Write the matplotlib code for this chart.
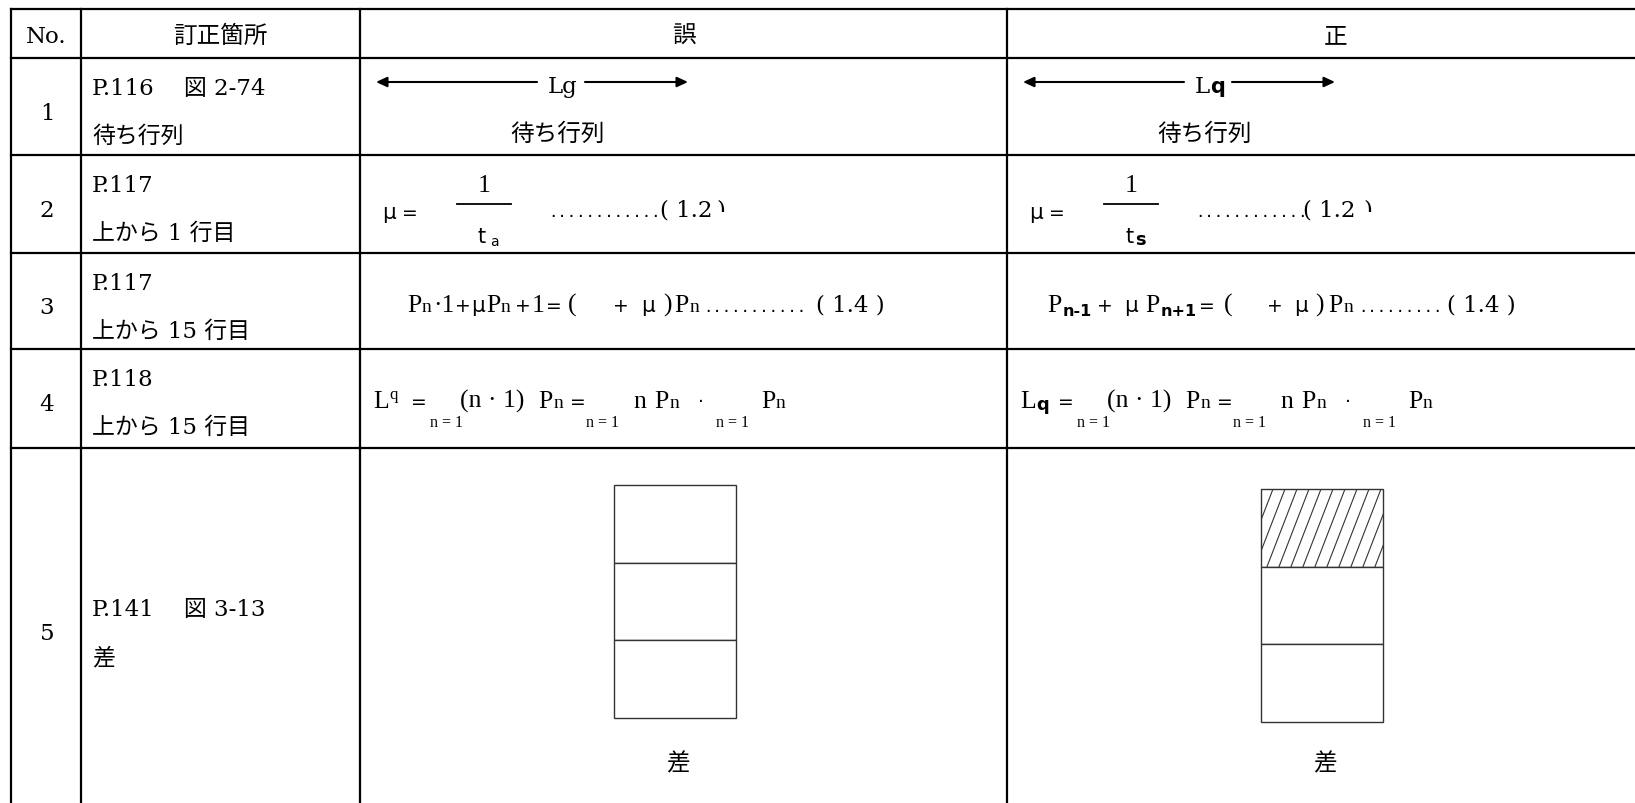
import matplotlib
matplotlib.use("Agg")
import matplotlib.pyplot as plt
from matplotlib.patches import Rectangle
from matplotlib.transforms import Bbox
import numpy as np

# ---------------- data (text content of the errata table) ----------------
HEADERS = ["No.", "訂正箇所", "誤", "正"]
ROW_NUMBERS = ["1", "2", "3", "4", "5"]
LOCATION_LINE1 = ["P.116\u3000 図 2-74", "P.117", "P.117", "P.118", "P.141\u3000 図 3-13"]
LOCATION_LINE2 = ["待ち行列", "上から 1 行目", "上から 15 行目", "上から 15 行目", "差"]

R1_WRONG = ["Lg"]
R1_RIGHT = ["L", "q"]
R1_CAPTION = "待ち行列"

R2_WRONG = ["μ", "=", "1", "t", "a", "............", "( 1.2", ")"]
R2_RIGHT = ["μ", "=", "1", "t", "s", "............", "( 1.2", ")"]

R3_WRONG = ["P", "n", "·1", "+", "μ", "P", "n", "+", "1", "=", "(", "+", "μ", ")", "P", "n",
            "...........", "( 1.4 )"]
R3_RIGHT = ["P", "n-1", "+", "μ", "P", "n+1", "=", "(", "+", "μ", ")", "P", "n",
            ".........", "( 1.4 )"]

R4_WRONG = ["L", "q", "=", "n = 1", "(n · 1)", "P", "n", "=", "n = 1", "n", "P", "n", "·",
            "n = 1", "P", "n"]
R4_RIGHT = ["L", "q", "=", "n = 1", "(n · 1)", "P", "n", "=", "n = 1", "n", "P", "n", "·",
            "n = 1", "P", "n"]

R5_CAPTION = "差"
R5_SEGMENTS = 3
R5_HATCH_WRONG = [False, False, False]
R5_HATCH_RIGHT = [True, False, False]

# ---------------- layout ----------------
W, H = 1635, 804
fig = plt.figure(figsize=(W / 100, H / 100), dpi=100)
ax = fig.add_axes([0, 0, 1, 1])
ax.set_xlim(0, W)
ax.set_ylim(H, 0)
ax.axis("off")

COLS = [11, 81, 360, 1007, 1660]
ROWS = [10, 59, 156, 254, 350, 449, 807]
LW = 1.6

SERIF = "DejaVu Serif"
TIMES = "Liberation Serif"
SANS = "DejaVu Sans"
CJK = "Noto Sans CJK JP"
STY = {
    "rm": dict(fontfamily=SERIF, fontsize=16.5),
    "frm": dict(fontfamily=TIMES, fontsize=18.5),
    "rs": dict(fontfamily=TIMES, fontsize=14),
    "sub": dict(fontfamily=TIMES, fontsize=11.5),
    "op": dict(fontfamily=SANS, fontsize=13.5),
    "mu": dict(fontfamily=SANS, fontsize=15.5),
    "bsub": dict(fontfamily=SANS, fontsize=11.5, fontweight="bold"),
    "bq": dict(fontfamily=SANS, fontsize=13, fontweight="bold"),
    "supq": dict(fontfamily=TIMES, fontsize=12),
    "qs": dict(fontfamily=SANS, fontsize=15, fontweight="bold"),
    "t": dict(fontfamily=SANS, fontsize=15),
    "asub": dict(fontfamily=SANS, fontsize=10),
    "ssub": dict(fontfamily=SANS, fontsize=13, fontweight="bold"),
    "dots": dict(fontfamily="DejaVu Sans Mono", fontsize=11.2),
    "mix": dict(fontfamily=[SERIF, CJK], fontsize=16.5),
    "cjk": dict(fontfamily=[CJK], fontsize=17),
}


def put(x, y, s, sty, ha="left", **kw):
    return ax.text(x, y, s, ha=ha, va="baseline", color="black", **STY[sty], **kw)


# grid lines
for x in COLS[:-1]:
    ax.plot([x, x], [ROWS[0], ROWS[-1]], color="black", lw=LW, solid_capstyle="projecting")
for y in ROWS[:-1]:
    ax.plot([COLS[0], COLS[-1]], [y, y], color="black", lw=LW, solid_capstyle="projecting")

# header
HEADER_X = [(COLS[0] + COLS[1]) / 2, (COLS[1] + COLS[2]) / 2, (COLS[2] + COLS[3]) / 2, 1336]
put(HEADER_X[0], 43, HEADERS[0], "rm", ha="center")
for i in range(1, 4):
    put(HEADER_X[i], 43, HEADERS[i], "cjk", ha="center")

# first two columns
for r in range(5):
    top = ROWS[r + 1]
    bot = ROWS[r + 2]
    num_base = (top + bot) / 2 + 12 if r < 4 else 640
    put((COLS[0] + COLS[1]) / 2 + 1, num_base, ROW_NUMBERS[r], "rm", ha="center")
    if r < 4:
        b1, b2 = top + 36, top + 84
    else:
        b1, b2 = 616, 664
    put(COLS[1] + 11, b1, LOCATION_LINE1[r], "mix")
    put(COLS[1] + 11, b2, LOCATION_LINE2[r], "mix")

WRONG_C = COLS[2]
RIGHT_C = COLS[3]

# ---- row 1 : arrows
for c, label in ((WRONG_C, R1_WRONG), (RIGHT_C, R1_RIGHT)):
    arrow = dict(arrowstyle="-|>,head_length=0.65,head_width=0.3", lw=1.5, color="black",
                 shrinkA=0, shrinkB=0, mutation_scale=10)
    ax.annotate("", xy=(c + 16, 83), xytext=(c + 177, 83), arrowprops=arrow)
    ax.annotate("", xy=(c + 328, 83), xytext=(c + 225, 83), arrowprops=arrow)
    put(c + 188, 93, label[0], "rm")
    if len(label) > 1:
        put(c + 203, 93, label[1], "qs")
    put(c + 198, 141, R1_CAPTION, "cjk", ha="center")

# ---- row 2 : mu = 1/t
R2_LAYOUT = {
    "wrong": [("mu", 22, 219, "left"), ("op", 42, 219, "left"), ("frm", 124, 192, "center"),
              ("t", 118, 243, "left"), ("asub", 130, 246, "left"), ("dots", 188, 217, "left"),
              ("rm", 300, 217, "left"), ("rm", 356, 217, "left")],
    "right": [("mu", 22, 219, "left"), ("op", 42, 219, "left"), ("frm", 124, 192, "center"),
              ("t", 119, 243, "left"), ("ssub", 128, 245, "left"), ("dots", 188, 217, "left"),
              ("rm", 296, 217, "left"), ("rm", 356, 217, "left")],
}
for c, texts, key in ((WRONG_C, R2_WRONG, "wrong"), (RIGHT_C, R2_RIGHT, "right")):
    ax.plot([c + 97, c + 151], [205, 205], color="black", lw=1.3)
    for k, (s, (sty, dx, by, ha)) in enumerate(zip(texts, R2_LAYOUT[key])):
        t = put(c + dx, by, s, sty, ha=ha)
        if k == len(texts) - 1:  # closing bracket is only half visible
            t.set_clip_on(True)
            t.set_clip_box(Bbox.from_extents(c + dx - 5, H - 213, c + dx + 30, H - 190))

# ---- row 3
R3_BASE = 312
R3_LAYOUT_WRONG = [("frm", 47, 0), ("rs", 62, 0), ("frm", 73, 0), ("op", 95, 0), ("mu", 111, 0),
                   ("frm", 126, 0), ("rs", 141, 0), ("op", 155, 0), ("frm", 172, 0),
                   ("op", 186, 0), ("frm", 208, 0), ("op", 253, 0), ("mu", 281, 0),
                   ("frm", 303, 0), ("frm", 314, 0), ("rs", 330, 0), ("dots", 343, 0),
                   ("rm", 456, 0)]
R3_LAYOUT_RIGHT = [("frm", 40, 0), ("bsub", 56, 4), ("op", 90, 0), ("mu", 117, 0),
                   ("frm", 138, 0), ("bsub", 154, 4), ("op", 192, 0), ("frm", 217, 0),
                   ("op", 260, 0), ("mu", 287, 0), ("frm", 308, 0), ("frm", 321, 0),
                   ("rs", 337, 0), ("dots", 351, 0), ("rm", 440, 0)]
for c, texts, lay in ((WRONG_C, R3_WRONG, R3_LAYOUT_WRONG), (RIGHT_C, R3_RIGHT, R3_LAYOUT_RIGHT)):
    for s, (sty, dx, dy) in zip(texts, lay):
        put(c + dx, R3_BASE + dy, s, sty)

# ---- row 4
R4_BASE = 408
R4_LAYOUT_COMMON = [("op", 51, 0), ("sub", 70, 19), ("frm", 100, 0), ("frm", 178, 0),
                    ("rs", 194, 0), ("op", 210, 0), ("sub", 226, 19), ("frm", 273, 0),
                    ("frm", 294, 0), ("rs", 310, 0), ("op", 338, 0), ("sub", 356, 19),
                    ("frm", 401, 0), ("rs", 416, 0)]
R4_LAYOUT_WRONG = [("frm", 13, 0), ("supq", 29, -9)] + R4_LAYOUT_COMMON
R4_LAYOUT_RIGHT = [("frm", 13, 0), ("bq", 29, 2)] + R4_LAYOUT_COMMON
for c, texts, lay in ((WRONG_C, R4_WRONG, R4_LAYOUT_WRONG), (RIGHT_C, R4_RIGHT, R4_LAYOUT_RIGHT)):
    for s, (sty, dx, dy) in zip(texts, lay):
        put(c + dx, R4_BASE + dy, s, sty)

# ---- row 5 : stacked boxes
for c, y_top, hatch in ((WRONG_C, 486, R5_HATCH_WRONG), (RIGHT_C, 490, R5_HATCH_RIGHT)):
    x0, x1 = c + 254, c + 376
    seg_h = 233 / R5_SEGMENTS
    for i in range(R5_SEGMENTS):
        ys = y_top + i * seg_h
        rect = Rectangle((x0, ys), x1 - x0, seg_h, facecolor="white", edgecolor="#333333", lw=1.0)
        ax.add_patch(rect)
        if hatch[i]:
            dxl = 30
            for xb in np.arange(x0 - dxl, x1 + 1, 12):
                ln, = ax.plot([xb, xb + dxl], [ys + seg_h, ys], color="#333333", lw=0.8)
                ln.set_clip_path(rect)
    put(c + 318, 770, R5_CAPTION, "cjk", ha="center")

fig.savefig("out.png", dpi=100, facecolor="white")
